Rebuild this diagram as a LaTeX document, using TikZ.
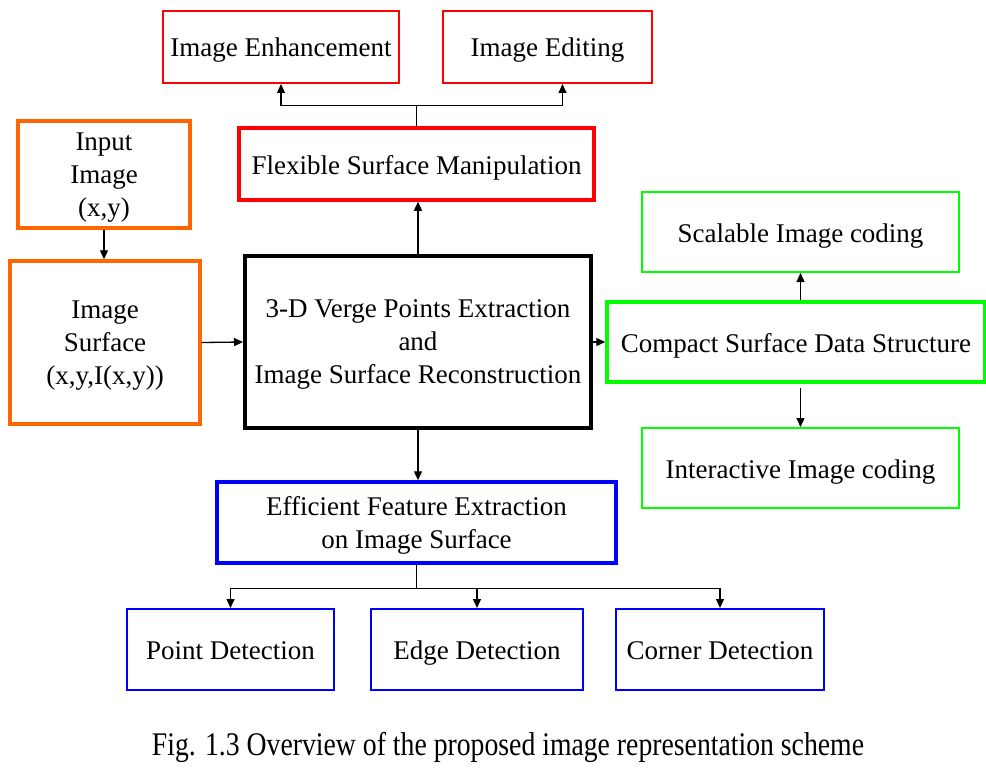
\documentclass[tikz,border=0pt]{standalone}
\usepackage{fontspec}
\setmainfont{Liberation Serif}
\usetikzlibrary{arrows.meta,positioning,calc}
\definecolor{boxred}{HTML}{FF0000}
\definecolor{boxorange}{HTML}{FF6600}
\definecolor{boxgreen}{HTML}{00FF00}
\definecolor{boxblue}{HTML}{0000FF}

\begin{document}
\begin{tikzpicture}[x=1pt,y=-1pt,
  box/.style={draw, align=center, inner sep=0pt, font=\fontsize{27}{33}\selectfont},
  oneline/.style={text height=22pt, text depth=2pt},
  multiline/.style={text depth=0pt},
  thinbox/.style={box, line width=2pt},
  thickbox/.style={box, line width=3.5pt},
  wire/.style={line width=1.3pt},
  link/.style={wire, -{Triangle[length=9pt,width=8pt]}}]
\useasboundingbox (0,0) rectangle (986,776);

\node[thinbox, oneline, draw=boxred, minimum width=236pt, minimum height=72pt] (enh) at (281,47) {Image Enhancement};
\node[thinbox, oneline, draw=boxred, minimum width=209pt, minimum height=72pt] (edit) at (547.5,47) {Image Editing};
\node[thickbox, oneline, draw=boxred, minimum width=355pt, minimum height=72pt] (flex) at (416.5,164) {Flexible Surface Manipulation};

\node[thickbox, multiline, draw=boxorange, minimum width=172pt, minimum height=107pt] (input) at (104,174.5) {Input\\Image\\(x,y)};
\node[thickbox, multiline, draw=boxorange, minimum width=190pt, minimum height=163pt] (surf) at (105,342.5) {Image\\Surface\\(x,y,I(x,y))};

\node[box, multiline, line width=4pt, minimum width=346pt, minimum height=172pt] (verge) at (418,342) {3-D Verge Points Extraction\\and\\Image Surface Reconstruction};

\node[thinbox, oneline, draw=boxgreen, minimum width=317pt, minimum height=80pt] (scal) at (800.5,232) {Scalable Image coding};
\node[thickbox, oneline, draw=boxgreen, minimum width=378pt, minimum height=80pt] (compact) at (796,342) {Compact Surface Data Structure};
\node[thinbox, oneline, draw=boxgreen, minimum width=317pt, minimum height=80pt] (inter) at (800.5,468) {Interactive Image coding};

\node[thickbox, multiline, draw=boxblue, minimum width=399pt, minimum height=81pt] (eff) at (416.5,522.5) {Efficient Feature Extraction\\on Image Surface};
\node[thinbox, oneline, draw=boxblue, minimum width=207pt, minimum height=81pt] (pointd) at (230.5,649.5) {Point Detection};
\node[thinbox, oneline, draw=boxblue, minimum width=212pt, minimum height=81pt] (edged) at (477,649.5) {Edge Detection};
\node[thinbox, oneline, draw=boxblue, minimum width=208pt, minimum height=81pt] (cornerd) at (720,649.5) {Corner Detection};

\node[anchor=base, font=\fontsize{33}{40}\selectfont] (caption) at (508,755)
  {\scalebox{0.84}[1]{Fig. 1.3 Overview of the proposed image representation scheme}};

\draw[link] (input.south) -- (input.south |- surf.north);
\draw[link] (surf.east) -- (verge.west);
\draw[link] (verge.north) -- (verge.north |- flex.south);
\draw[link] (verge.east) -- (compact.west);
\draw[link] (verge.south) -- (verge.south |- eff.north);

\draw[wire] (flex.north) -- ++(0,-21) coordinate (fork);
\draw[link] (fork) -| (enh.south);
\draw[link] (fork) -| ($(edit.south)+(15,0)$);

\draw[link] (compact.north -| scal.south) -- (scal.south);
\draw[link] ($(compact.south -| inter.north)+(0,4)$) -- (inter.north);

\draw[wire] (eff.south) -- ++(0,24) coordinate (split);
\draw[link] (split) -| (pointd.north);
\draw[link] (split) -| (edged.north);
\draw[link] (split) -| (cornerd.north);
\end{tikzpicture}
\end{document}
